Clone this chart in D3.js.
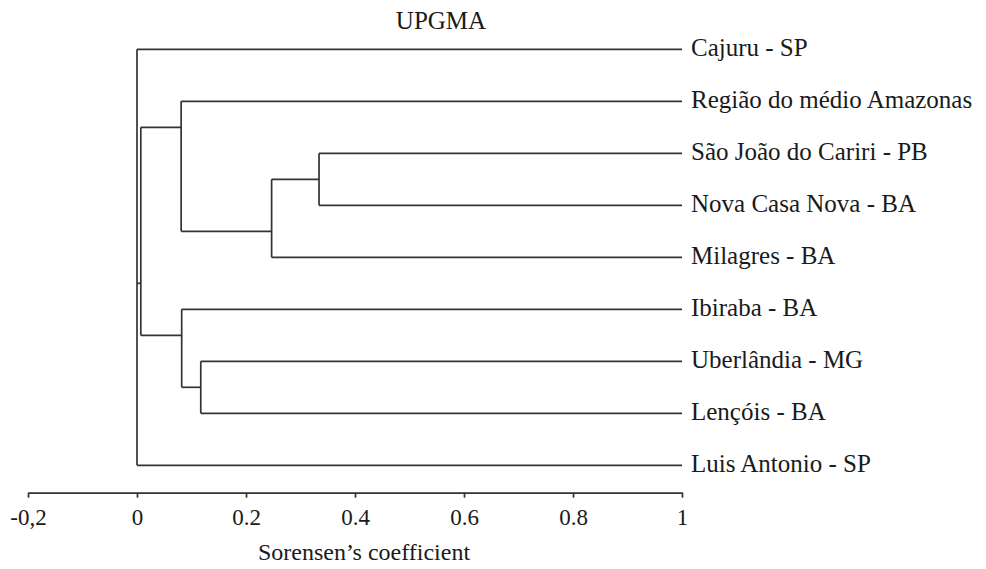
<!DOCTYPE html>
<html><head><meta charset="utf-8">
<script src="https://cdn.jsdelivr.net/npm/d3@7"></script>
<style>body{margin:0;background:#fff}svg{display:block}</style>
</head><body>
<svg id="chart" width="986" height="569"></svg>
<script>
// Leaves in display order (top to bottom)
const leafNames = [
  "Cajuru - SP",
  "Região do médio Amazonas",
  "São João do Cariri - PB",
  "Nova Casa Nova - BA",
  "Milagres - BA",
  "Ibiraba - BA",
  "Uberlândia - MG",
  "Lençóis - BA",
  "Luis Antonio - SP"
];
// Clusters (UPGMA merges) with their Sorensen similarity level
const clusterIds = ["E", "D", "F", "C", "B", "A", "root"];
const clusterChildren = [
  ["São João do Cariri - PB", "Nova Casa Nova - BA"],
  ["E", "Milagres - BA"],
  ["Uberlândia - MG", "Lençóis - BA"],
  ["Ibiraba - BA", "F"],
  ["Região do médio Amazonas", "D"],
  ["B", "C"],
  ["Cajuru - SP", "A", "Luis Antonio - SP"]
];
const clusterHeights = [0.334, 0.247, 0.117, 0.082, 0.081, 0.007, 0.0];
const tickValues = [-0.2, 0, 0.2, 0.4, 0.6, 0.8, 1];
const tickLabels = ["-0,2", "0", "0.2", "0.4", "0.6", "0.8", "1"];
const leafHeight = 1;
const titleText = "UPGMA";
const xTitle = "Sorensen\u2019s coefficient";

const svg = d3.select("#chart");
const FONT = '"Liberation Serif"';
const stroke = "#333333";
const ink = "#1a1a1a";

const x = d3.scaleLinear().domain([-0.2, 1]).range([28, 682]);
const y = d3.scaleLinear().domain([0, leafNames.length - 1]).range([49.3, 465.3]);

// build hierarchy
const childMap = new Map(clusterIds.map((id, i) => [id, clusterChildren[i]]));
const heightMap = new Map(clusterIds.map((id, i) => [id, clusterHeights[i]]));
function build(id) {
  const ch = childMap.get(id);
  return ch ? { id, h: heightMap.get(id), children: ch.map(build) } : { id, h: leafHeight };
}
const root = d3.hierarchy(build("root"));
root.eachAfter(n => {
  if (!n.children) { n.lo = n.hi = leafNames.indexOf(n.data.id); }
  else { n.lo = d3.min(n.children, c => c.lo); n.hi = d3.max(n.children, c => c.hi); }
});
root.eachAfter(n => {
  if (!n.children) n.j = n.lo;
  else n.j = (n.children[0].hi + n.children[1].lo) / 2;
});

const g = svg.append("g").attr("fill", "none").attr("stroke", stroke).attr("stroke-width", 1.7);
root.each(n => {
  if (n.children) {
    const js = n.children.map(c => c.j);
    g.append("line")
      .attr("x1", x(n.data.h)).attr("x2", x(n.data.h))
      .attr("y1", y(d3.min(js))).attr("y2", y(d3.max(js)));
    n.children.forEach(c => {
      g.append("line")
        .attr("x1", x(n.data.h)).attr("x2", x(c.data.h))
        .attr("y1", y(c.j)).attr("y2", y(c.j));
    });
  }
});

svg.append("g").selectAll("text").data(leafNames).join("text")
  .attr("x", x(leafHeight) + 9).attr("y", (d, i) => y(i))
  .attr("dy", "0.25em")
  .style("font-family", FONT).style("font-size", "25px").attr("fill", ink)
  .text(d => d);

const axis = d3.axisBottom(x).tickValues(tickValues)
  .tickFormat((d, i) => tickLabels[i]).tickSize(5).tickSizeOuter(0).tickPadding(11);
const ax = svg.append("g").attr("transform", "translate(0,492.7)").call(axis);
ax.select(".domain").attr("stroke", stroke).attr("stroke-width", 1.7);
ax.selectAll(".tick line").attr("stroke", stroke).attr("stroke-width", 1.7);
ax.selectAll(".tick text").style("font-family", FONT).style("font-size", "23px").attr("fill", ink);

svg.append("text").attr("x", 441).attr("y", 29).attr("text-anchor", "middle")
  .style("font-family", FONT).style("font-size", "25px").attr("fill", ink).text(titleText);
svg.append("text").attr("x", 364).attr("y", 560).attr("text-anchor", "middle")
  .style("font-family", FONT).style("font-size", "24px").attr("fill", ink).text(xTitle);
</script>
</body></html>
